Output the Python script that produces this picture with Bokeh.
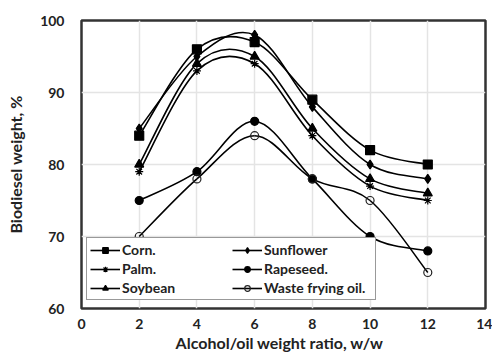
from bokeh.plotting import figure
from bokeh.models import Legend, LegendItem, FixedTicker, ColumnDataSource
from bokeh.embed import file_html
from bokeh.resources import INLINE

ratio = [2, 4, 6, 8, 10, 12]
corn = [84, 96, 97, 89, 82, 80]
sunflower = [85, 95, 98, 88, 80, 78]
palm = [79, 93, 94, 84, 77, 75]
rapeseed = [75, 79, 86, 78, 70, 68]
soybean = [80, 94, 95, 85, 78, 76]
waste = [70, 78, 84, 78, 75, 65]

FONT = "Lato"

p = figure(width=492, height=355, output_backend="svg", toolbar_location=None,
           x_range=(0, 14), y_range=(60, 100),
           min_border_left=81, min_border_top=20, min_border_bottom=47, min_border_right=7)

p.outline_line_color = "#333333"
p.outline_line_width = 2.5
p.background_fill_color = "white"
p.border_fill_color = "white"

p.xaxis.ticker = FixedTicker(ticks=[0, 2, 4, 6, 8, 10, 12, 14])
p.yaxis.ticker = FixedTicker(ticks=[60, 70, 80, 90, 100])
for ax in (p.xaxis, p.yaxis):
    ax.axis_line_color = None
    ax.major_tick_line_color = None
    ax.minor_tick_line_color = None
    ax.major_tick_out = 0
    ax.major_tick_in = 0
    ax.minor_tick_out = 0
    ax.major_label_text_font = FONT
    ax.major_label_text_font_style = "bold"
    ax.major_label_text_font_size = "14px"
    ax.major_label_text_color = "#222222"
    ax.axis_label_text_font = FONT
    ax.axis_label_text_font_style = "bold"
    ax.axis_label_text_font_size = "16px"
    ax.axis_label_text_color = "#222222"
p.xaxis.major_label_standoff = 10
p.yaxis.major_label_standoff = 17
p.xaxis.axis_label = "Alcohol/oil  weight ratio,  w/w"
p.yaxis.axis_label = "Biodiesel weight, %"
p.xaxis.axis_label_standoff = 1
p.yaxis.axis_label_standoff = 12

p.xgrid.grid_line_color = "#e4e4e4"
p.ygrid.grid_line_color = "#e4e4e4"
p.xgrid.grid_line_width = 1.5
p.ygrid.grid_line_width = 1.5


def smooth_segments(xs, ys):
    n = len(xs)
    d = dict(x0=[], y0=[], x1=[], y1=[], cx0=[], cy0=[], cx1=[], cy1=[])
    for i in range(n - 1):
        im1 = max(i - 1, 0)
        ip2 = min(i + 2, n - 1)
        d["x0"].append(xs[i]); d["y0"].append(ys[i])
        d["x1"].append(xs[i + 1]); d["y1"].append(ys[i + 1])
        d["cx0"].append(xs[i] + (xs[i + 1] - xs[im1]) / 6)
        d["cy0"].append(ys[i] + (ys[i + 1] - ys[im1]) / 6)
        d["cx1"].append(xs[i + 1] - (xs[ip2] - xs[i]) / 6)
        d["cy1"].append(ys[i + 1] - (ys[ip2] - ys[i]) / 6)
    return ColumnDataSource(d)


series = [
    ("Corn.", corn, "square", 9, "black"),
    ("Sunflower", sunflower, "diamond", 9, "black"),
    ("Palm.", palm, "asterisk", 8, "black"),
    ("Rapeseed.", rapeseed, "circle", 8, "black"),
    ("Soybean", soybean, "triangle", 9, "black"),
    ("Waste frying oil.", waste, "circle", 8, None),
]

items = {}
for name, ys, marker, size, fill in series:
    src = smooth_segments(ratio, ys)
    p.bezier(x0="x0", y0="y0", x1="x1", y1="y1", cx0="cx0", cy0="cy0",
             cx1="cx1", cy1="cy1", source=src, line_color="black", line_width=1.6)
    # legend-only line sample: a single point, so nothing is drawn in the plot
    lg = p.line(x=ratio[:1], y=ys[:1], line_color="black", line_width=1.6)
    if fill is None:
        s = p.scatter(ratio, ys, marker=marker, size=size, fill_color="white",
                      fill_alpha=0, line_color="#222222", line_width=1.2)
    else:
        s = p.scatter(ratio, ys, marker=marker, size=size, fill_color=fill,
                      line_color="black", line_width=1.2)
    items[name] = LegendItem(label=name, renderers=[lg, s])

# column-major order: first column, then second column
order = ["Corn.", "Palm.", "Soybean", "Sunflower", "Rapeseed.", "Waste frying oil."]
legend = Legend(items=[items[k] for k in order], ncols=2, location=(5, 8),
                label_text_font=FONT, label_text_font_style="bold",
                label_text_font_size="14px", label_text_color="#222222",
                glyph_width=30, glyph_height=14, label_standoff=2, label_width=108,
                spacing=2, padding=3, margin=0, label_height=14,
                border_line_color="#333333", border_line_width=1.2,
                background_fill_alpha=1)
p.add_layout(legend, "center")

open("out.html", "w").write(file_html(p, INLINE))
